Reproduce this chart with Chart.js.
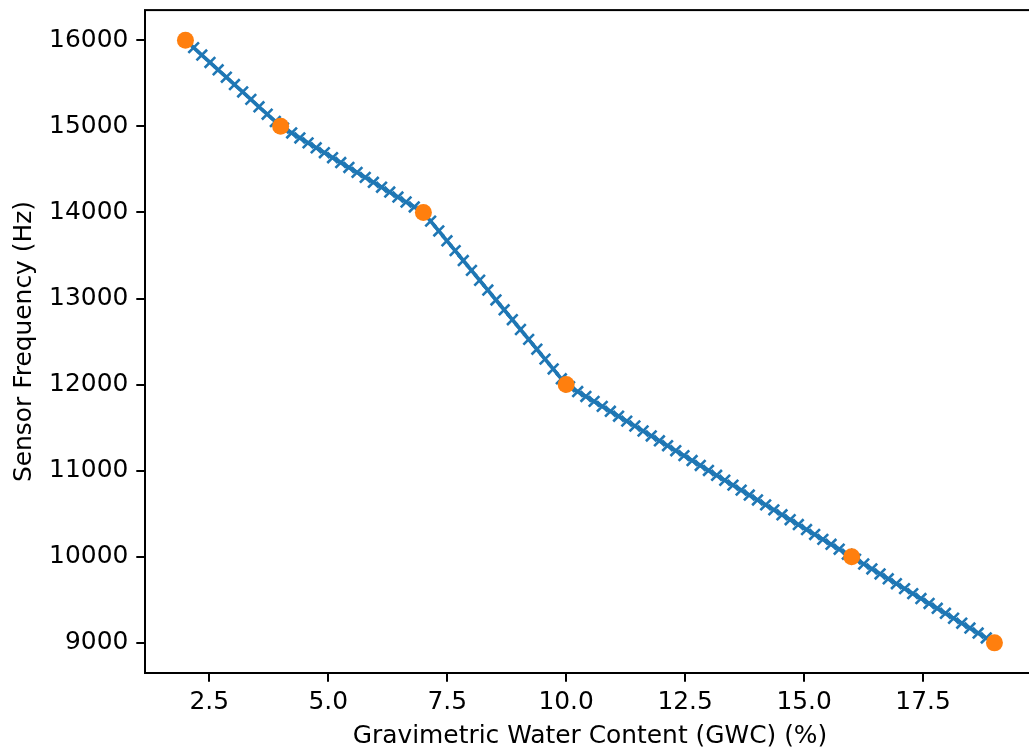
<!DOCTYPE html>
<html>
<head>
<meta charset="utf-8">
<script src="https://cdn.jsdelivr.net/npm/chart.js@4/dist/chart.umd.min.js"></script>
<style>
  html, body { margin: 0; padding: 0; background: #fff; overflow: hidden; }
  canvas { display: block; }
</style>
</head>
<body>
<canvas id="c" width="1045" height="751"></canvas>
<script>
// Measured knots (orange markers)
const gwcPoints = [2, 4, 7, 10, 16, 19];
const freqPoints = [16000, 15000, 14000, 12000, 10000, 9000];

// Dense blue "x" curve
const curveGwc = [
  2.000, 2.172, 2.343, 2.515, 2.687, 2.859, 3.030, 3.202, 3.374, 3.545,
  3.717, 3.889, 4.061, 4.232, 4.404, 4.576, 4.747, 4.919, 5.091, 5.263,
  5.434, 5.606, 5.778, 5.949, 6.121, 6.293, 6.465, 6.636, 6.808, 6.980,
  7.152, 7.323, 7.495, 7.667, 7.838, 8.010, 8.182, 8.354, 8.525, 8.697,
  8.869, 9.040, 9.212, 9.384, 9.556, 9.727, 9.899, 10.071, 10.242, 10.414,
  10.586, 10.758, 10.929, 11.101, 11.273, 11.444, 11.616, 11.788, 11.960, 12.131,
  12.303, 12.475, 12.646, 12.818, 12.990, 13.162, 13.333, 13.505, 13.677, 13.848,
  14.020, 14.192, 14.364, 14.535, 14.707, 14.879, 15.051, 15.222, 15.394, 15.566,
  15.737, 15.909, 16.081, 16.253, 16.424, 16.596, 16.768, 16.939, 17.111, 17.283,
  17.455, 17.626, 17.798, 17.970, 18.141, 18.313, 18.485, 18.657, 18.828, 19.000
];
const curveFreq = [
  16000, 15914, 15828, 15742, 15657, 15571, 15485, 15399, 15313, 15227,
  15141, 15056, 14980, 14923, 14865, 14808, 14751, 14694, 14636, 14579,
  14522, 14465, 14407, 14350, 14293, 14236, 14178, 14121, 14064, 14007,
  13899, 13785, 13670, 13556, 13441, 13327, 13212, 13098, 12983, 12869,
  12754, 12640, 12525, 12411, 12296, 12182, 12067, 11976, 11919, 11862,
  11805, 11747, 11690, 11633, 11576, 11519, 11461, 11404, 11347, 11290,
  11232, 11175, 11118, 11061, 11003, 10946, 10889, 10832, 10774, 10717,
  10660, 10603, 10545, 10488, 10431, 10374, 10316, 10259, 10202, 10145,
  10088, 10030, 9973, 9916, 9859, 9801, 9744, 9687, 9630, 9572,
  9515, 9458, 9401, 9343, 9286, 9229, 9172, 9114, 9057, 9000
];

const xTicks = [2.5, 5.0, 7.5, 10.0, 12.5, 15.0, 17.5];
const yTicks = [9000, 10000, 11000, 12000, 13000, 14000, 15000, 16000];

const xTitle = 'Gravimetric Water Content (GWC) (%)';
const yTitle = 'Sensor Frequency (Hz)';

Chart.defaults.font.family = "'DejaVu Sans', sans-serif";
Chart.defaults.font.size = 24.9;
Chart.defaults.color = '#000';

const frame = {
  id: 'frame',
  afterDraw(chart) {
    const a = chart.chartArea;
    const ctx = chart.ctx;
    ctx.save();
    ctx.strokeStyle = '#000';
    ctx.lineWidth = 2;
    ctx.strokeRect(a.left, a.top, a.right - a.left, a.bottom - a.top);
    ctx.restore();
  }
};

new Chart(document.getElementById('c'), {
  type: 'line',
  data: {
    datasets: [
      {
        data: curveGwc.map((x, i) => ({ x: x, y: curveFreq[i] })),
        borderColor: '#1f77b4',
        borderWidth: 3.7,
        tension: 0,
        pointStyle: 'crossRot',
        pointRadius: 7.5,
        pointBorderColor: '#1f77b4',
        pointBorderWidth: 2.6,
        pointBackgroundColor: 'rgba(0,0,0,0)',
        order: 2
      },
      {
        data: gwcPoints.map((x, i) => ({ x: x, y: freqPoints[i] })),
        showLine: false,
        pointStyle: 'circle',
        pointRadius: 8.5,
        pointBackgroundColor: '#ff7f0e',
        pointBorderColor: '#ff7f0e',
        pointBorderWidth: 0,
        order: 1
      }
    ]
  },
  options: {
    responsive: false,
    animation: false,
    layout: { padding: { top: 10, right: 9, left: 0, bottom: 0 } },
    plugins: { legend: { display: false }, tooltip: { enabled: false } },
    scales: {
      x: {
        type: 'linear',
        min: 1.15,
        max: 19.85,
        afterBuildTicks: (s) => { s.ticks = xTicks.map(v => ({ value: v })); },
        afterFit: (s) => { s.height = 78; s.paddingLeft = 0; s.paddingRight = 0; },
        ticks: {
          callback: (v) => Number(v).toFixed(1),
          padding: 6,
          maxRotation: 0,
          autoSkip: false
        },
        grid: { drawOnChartArea: false, drawTicks: true, tickLength: 8.7, color: '#000', lineWidth: 2 },
        border: { display: false },
        title: { display: true, text: xTitle, padding: { top: 0, bottom: 0 } }
      },
      y: {
        type: 'linear',
        min: 8650,
        max: 16350,
        afterBuildTicks: (s) => { s.ticks = yTicks.map(v => ({ value: v })); },
        afterFit: (s) => { s.width = 145; s.paddingTop = 0; s.paddingBottom = 0; },
        ticks: {
          callback: (v) => String(v),
          padding: 8,
          autoSkip: false
        },
        grid: { drawOnChartArea: false, drawTicks: true, tickLength: 8.7, color: '#000', lineWidth: 2 },
        border: { display: false },
        title: { display: true, text: yTitle, padding: { top: 10, bottom: 0 } }
      }
    }
  },
  plugins: [frame]
});
</script>
</body>
</html>
